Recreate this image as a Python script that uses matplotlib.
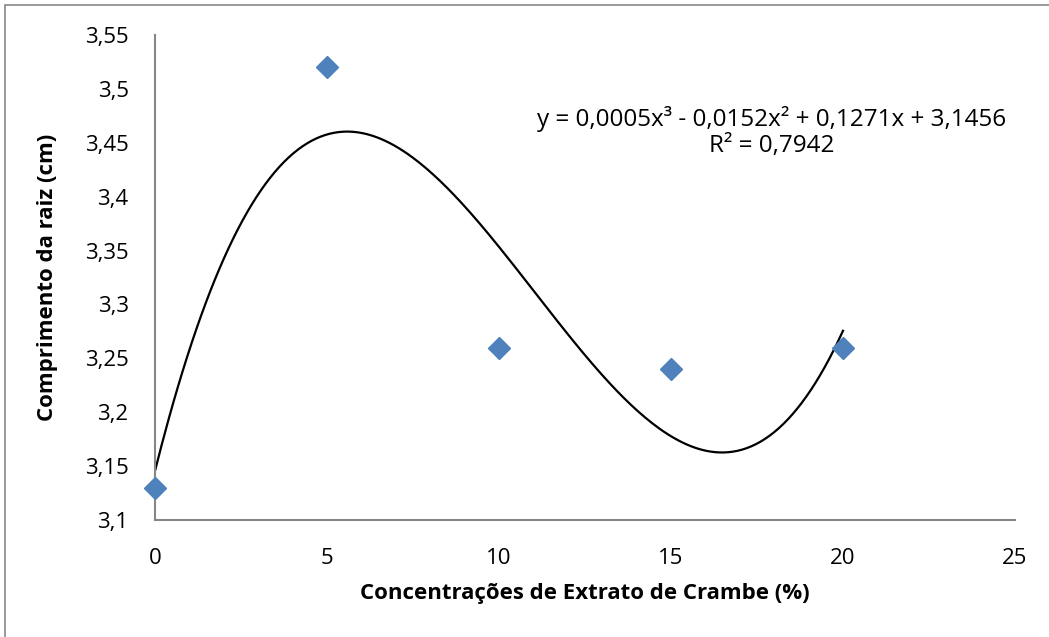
import numpy as np
import matplotlib
matplotlib.use("Agg")
import matplotlib.pyplot as plt
from matplotlib.patches import Rectangle
from matplotlib.ticker import FuncFormatter

# Data
concentracoes = [0, 5, 10, 15, 20]
comprimento = [3.13, 3.52, 3.26, 3.24, 3.26]
x_ticks = [0, 5, 10, 15, 20, 25]
y_ticks = [3.1, 3.15, 3.2, 3.25, 3.3, 3.35, 3.4, 3.45, 3.5, 3.55]
equation_text = "y = 0,0005x³ - 0,0152x² + 0,1271x + 3,1456\nR² = 0,7942"
x_label = "Concentrações de Extrato de Crambe (%)"
y_label = "Comprimento da raiz (cm)"

plt.rcParams['font.family'] = ['Open Sans', 'DejaVu Sans']

fig = plt.figure(figsize=(10.49, 6.37), dpi=100)
W, H = 1049, 637
ax = fig.add_axes([155 / W, 1 - 520 / H, (1015 - 155) / W, (520 - 35) / H])

# Outer frame of the chart
fig.patches.append(Rectangle((5 / W, -0.1), 1.2, 1 - 5 / H + 0.1, transform=fig.transFigure,
                             fill=False, edgecolor='#888888', linewidth=1.2))

# Trend line (cubic polynomial fit)
coef = np.polyfit(concentracoes, comprimento, 3)
xs = np.linspace(min(concentracoes), max(concentracoes), 300)
ax.plot(xs, np.polyval(coef, xs), color='black', linewidth=1.6, zorder=2)

ax.plot(concentracoes, comprimento, linestyle='none', marker='D', markersize=11,
        color='#4F81BD', markeredgecolor='#4F81BD', zorder=3, clip_on=False)

ax.set_xlim(0, 25)
ax.set_ylim(3.1, 3.55)
ax.set_xticks(x_ticks)
ax.set_yticks(y_ticks)
fmt = FuncFormatter(lambda v, p: ("%g" % round(v, 2)).replace('.', ','))
ax.xaxis.set_major_formatter(fmt)
ax.yaxis.set_major_formatter(fmt)
ax.tick_params(axis='both', length=0, labelsize=16)
ax.tick_params(axis='x', pad=20)
ax.tick_params(axis='y', pad=19)

for s in ['top', 'right']:
    ax.spines[s].set_visible(False)
for s in ['left', 'bottom']:
    ax.spines[s].set_color('#868686')
    ax.spines[s].set_linewidth(1.5)

ax.set_xlabel(x_label, fontsize=16, fontweight='bold', labelpad=10)
ax.set_ylabel(y_label, fontsize=16, fontweight='bold', labelpad=19)

ax.text(772 / W, 1 - 132 / H, equation_text, transform=fig.transFigure, ha='center',
        va='center', fontsize=17.5, linespacing=1.1)

fig.savefig("out.png", dpi=100)
